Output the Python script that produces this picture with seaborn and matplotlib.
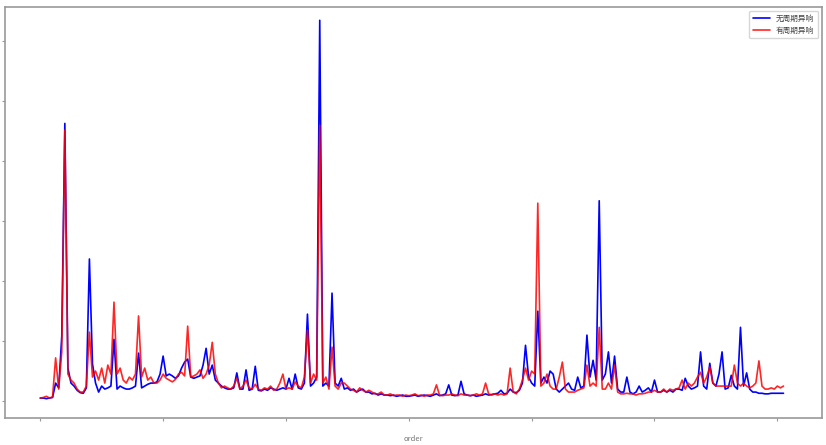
import pandas as pd
import matplotlib
matplotlib.use("Agg")
import matplotlib.pyplot as plt
import seaborn as sns

# Series values
no_period = [
    0.05, 0.05, 0.04, 0.05, 0.06, 0.3, 0.22, 1.08, 4.63, 0.55,
    0.3, 0.25, 0.18, 0.14, 0.13, 0.22, 2.37, 0.62, 0.3, 0.15,
    0.25, 0.2, 0.22, 0.25, 1.03, 0.2, 0.25, 0.22, 0.2, 0.2,
    0.22, 0.25, 0.8, 0.22, 0.25, 0.28, 0.3, 0.3, 0.32, 0.45,
    0.75, 0.42, 0.45, 0.42, 0.38, 0.42, 0.55, 0.65, 0.7, 0.4,
    0.38, 0.4, 0.42, 0.6, 0.88, 0.45, 0.6, 0.35, 0.3, 0.25,
    0.22, 0.2, 0.2, 0.22, 0.47, 0.2, 0.2, 0.52, 0.18, 0.2,
    0.58, 0.18, 0.17, 0.2, 0.18, 0.22, 0.2, 0.18, 0.2, 0.22,
    0.2, 0.38, 0.2, 0.45, 0.22, 0.2, 0.3, 1.45, 0.25, 0.3,
    0.4, 6.35, 0.25, 0.3, 0.25, 1.8, 0.3, 0.25, 0.38, 0.2,
    0.22, 0.18, 0.2, 0.15, 0.18, 0.2, 0.15, 0.15, 0.12, 0.13,
    0.1, 0.12, 0.1, 0.1, 0.09, 0.1, 0.08, 0.09, 0.1, 0.08,
    0.08, 0.09, 0.1, 0.08, 0.09, 0.1, 0.09, 0.08, 0.1, 0.12,
    0.09, 0.1, 0.12, 0.27, 0.1, 0.09, 0.1, 0.33, 0.12, 0.1,
    0.09, 0.1, 0.08, 0.09, 0.1, 0.12, 0.1, 0.11, 0.12, 0.13,
    0.18, 0.12, 0.13, 0.2, 0.15, 0.14, 0.18, 0.3, 0.93, 0.4,
    0.3, 0.25, 1.5, 0.3, 0.4, 0.3, 0.5, 0.45, 0.2, 0.15,
    0.2, 0.25, 0.3, 0.2, 0.18, 0.4, 0.22, 0.25, 1.1, 0.4,
    0.68, 0.35, 3.34, 0.35, 0.45, 0.82, 0.3, 0.75, 0.2, 0.15,
    0.15, 0.4, 0.15, 0.12, 0.15, 0.25, 0.15, 0.18, 0.22, 0.15,
    0.35, 0.15, 0.15, 0.18, 0.15, 0.18, 0.15, 0.2, 0.2, 0.18,
    0.38, 0.25, 0.2, 0.22, 0.25, 0.82, 0.25, 0.2, 0.63, 0.3,
    0.25, 0.45, 0.82, 0.2, 0.22, 0.43, 0.25, 0.2, 1.23, 0.25,
    0.47, 0.2, 0.15, 0.15, 0.13, 0.13, 0.12, 0.12, 0.13, 0.13,
    0.13, 0.13, 0.13,
]

with_period = [
    0.05, 0.06, 0.08, 0.05, 0.07, 0.72, 0.2, 0.82, 4.52, 0.45,
    0.35, 0.3, 0.2, 0.15, 0.15, 0.25, 1.15, 0.4, 0.5, 0.35,
    0.55, 0.3, 0.6, 0.45, 1.65, 0.45, 0.55, 0.35, 0.3, 0.4,
    0.35, 0.45, 1.42, 0.4, 0.55, 0.35, 0.4, 0.3, 0.3, 0.35,
    0.45, 0.38, 0.35, 0.32, 0.36, 0.45, 0.48, 0.42, 1.25, 0.4,
    0.42, 0.45, 0.52, 0.38, 0.45, 0.6, 0.98, 0.45, 0.3, 0.22,
    0.25, 0.22, 0.2, 0.25, 0.38, 0.2, 0.25, 0.35, 0.22, 0.2,
    0.28, 0.2, 0.18, 0.22, 0.2, 0.25, 0.18, 0.2, 0.3, 0.45,
    0.2, 0.22, 0.2, 0.32, 0.25, 0.22, 0.4, 1.18, 0.3, 0.45,
    0.35, 4.6, 0.3, 0.4, 0.2, 0.9, 0.25, 0.2, 0.3, 0.3,
    0.25, 0.2, 0.18, 0.15, 0.22, 0.18, 0.15, 0.18, 0.15, 0.12,
    0.12, 0.15, 0.1, 0.1, 0.12, 0.09, 0.1, 0.1, 0.08, 0.1,
    0.09, 0.1, 0.12, 0.09, 0.1, 0.08, 0.1, 0.1, 0.12, 0.27,
    0.1, 0.09, 0.1, 0.1, 0.12, 0.1, 0.09, 0.12, 0.1, 0.1,
    0.09, 0.1, 0.12, 0.1, 0.12, 0.3, 0.12, 0.1, 0.12, 0.1,
    0.12, 0.1, 0.12, 0.55, 0.15, 0.12, 0.2, 0.35, 0.55, 0.35,
    0.5, 0.45, 3.3, 0.25, 0.3, 0.45, 0.25, 0.2, 0.2, 0.4,
    0.65, 0.2, 0.15, 0.15, 0.15, 0.18, 0.2, 0.22, 0.6, 0.25,
    0.3, 0.25, 1.23, 0.2, 0.2, 0.3, 0.2, 0.6, 0.15, 0.12,
    0.12, 0.13, 0.12, 0.12, 0.1, 0.12, 0.12, 0.13, 0.15, 0.15,
    0.18, 0.15, 0.15, 0.2, 0.15, 0.2, 0.18, 0.2, 0.22, 0.35,
    0.2, 0.3, 0.25, 0.3, 0.4, 0.48, 0.3, 0.4, 0.57, 0.3,
    0.25, 0.25, 0.25, 0.25, 0.25, 0.25, 0.6, 0.3, 0.25, 0.3,
    0.25, 0.22, 0.25, 0.3, 0.67, 0.25, 0.2, 0.2, 0.22, 0.2,
    0.25, 0.22, 0.25,
]

labels = ["无周期异响", "有周期异响"]
x_label = "order"

order = list(range(len(no_period)))

df_no = pd.DataFrame({"order": order, "value": no_period})
df_with = pd.DataFrame({"order": order[:len(with_period)], "value": with_period})

sns.set_style("ticks")
plt.rcParams["font.family"] = ["Noto Sans CJK SC", "DejaVu Sans"]

fig = plt.figure(figsize=(8.26, 4.45), dpi=100)
ax = fig.add_axes([0.006, 0.061, 0.989, 0.923])

sns.lineplot(data=df_no, x="order", y="value", color="blue",
             linewidth=1.2, label=labels[0], ax=ax)
sns.lineplot(data=df_with, x="order", y="value", color="red",
             linewidth=1.2, alpha=0.85, label=labels[1], ax=ax)

ax.set_xlim(-11.5, 254.5)
ax.set_ylim(-0.28, 6.57)
ax.set_xticks(range(0, 241, 40))
ax.set_yticks(range(0, 7))
ax.tick_params(labelbottom=False, labelleft=False, length=2.5,
               color="#999999", width=0.8)
ax.set_xlabel(x_label, fontsize=5.5, color="#777777", labelpad=10)
ax.set_ylabel("")

for side in ["left", "right", "top", "bottom"]:
    ax.spines[side].set_visible(True)
    ax.spines[side].set_color("#999999")
    ax.spines[side].set_linewidth(1.2)

leg = ax.legend(loc="upper right", fontsize=5.5, frameon=True,
                handlelength=2.2, borderpad=0.5, labelspacing=0.5)
for t in leg.get_texts():
    t.set_color("#444444")

fig.savefig("out.png", dpi=100)
